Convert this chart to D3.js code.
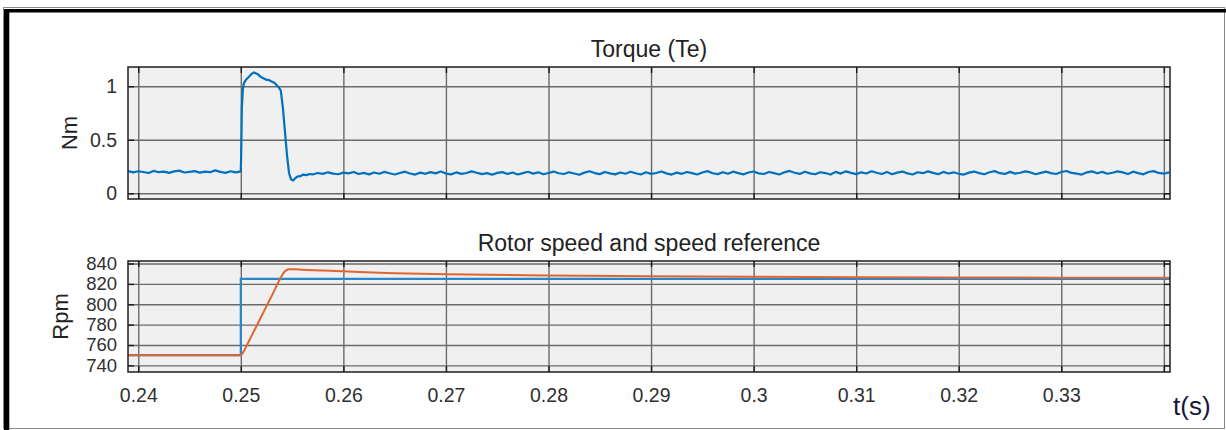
<!DOCTYPE html>
<html>
<head>
<meta charset="utf-8">
<script src="https://cdn.jsdelivr.net/npm/d3@7"></script>
<style>
  body { margin: 0; background: #fff; }
  svg { display: block; }
  text { font-family: "Liberation Sans", Arial, sans-serif; }
</style>
</head>
<body>
<svg id="chart" width="1226" height="430"></svg>
<script>
// time axis
const timeTicks = [0.24, 0.25, 0.26, 0.27, 0.28, 0.29, 0.30, 0.31, 0.32, 0.33, 0.34];
const timeTickLabels = ["0.24", "0.25", "0.26", "0.27", "0.28", "0.29", "0.3", "0.31", "0.32", "0.33", ""];

// torque panel
const torqueTicks = [0, 0.5, 1];
const torqueTickLabels = ["0", "0.5", "1"];
const sampleStep = 0.0005;
const torqueBeforeStart = 0.239;
const torqueBefore = [0.208, 0.195, 0.206, 0.199, 0.190, 0.209, 0.197, 0.203, 0.191, 0.205, 0.212, 0.194,
  0.200, 0.207, 0.193, 0.203, 0.197, 0.214, 0.200, 0.191, 0.206, 0.196, 0.205];
const torqueTransient = [
  [0.25005, 0.45], [0.2501, 0.80], [0.2502, 0.97], [0.2503, 1.03], [0.2505, 1.06], [0.2507, 1.08],
  [0.2509, 1.10], [0.2511, 1.12], [0.2513, 1.13], [0.2515, 1.12], [0.2517, 1.11], [0.2519, 1.09],
  [0.2521, 1.08], [0.2523, 1.07], [0.2525, 1.06], [0.2527, 1.06], [0.2529, 1.05], [0.2531, 1.04],
  [0.2533, 1.03], [0.2535, 1.01], [0.2537, 0.99], [0.2539, 0.96], [0.2541, 0.80], [0.2543, 0.58],
  [0.2545, 0.36], [0.2547, 0.19], [0.2549, 0.13], [0.2551, 0.12], [0.2553, 0.14], [0.2555, 0.155],
  [0.2558, 0.16], [0.2561, 0.175], [0.2564, 0.17], [0.2567, 0.18]
];
const torqueAfterStart = 0.257;
const torqueAfter = [
  0.176, 0.190, 0.181, 0.196, 0.184, 0.178, 0.193, 0.186, 0.199, 0.180, 0.191, 0.177,
  0.194, 0.183, 0.200, 0.187, 0.176, 0.190, 0.202, 0.185, 0.175, 0.193, 0.182, 0.198,
  0.186, 0.203, 0.184, 0.177, 0.195, 0.182, 0.190, 0.205, 0.192, 0.179, 0.188, 0.174,
  0.191, 0.198, 0.181, 0.194, 0.176, 0.188, 0.201, 0.184, 0.196, 0.178, 0.190, 0.203,
  0.187, 0.180, 0.197, 0.185, 0.173, 0.193, 0.206, 0.189, 0.179, 0.199, 0.186, 0.177,
  0.194, 0.183, 0.201, 0.187, 0.176, 0.196, 0.181, 0.190, 0.204, 0.186, 0.175, 0.193,
  0.182, 0.199, 0.188, 0.176, 0.194, 0.207, 0.187, 0.179, 0.197, 0.183, 0.202, 0.189,
  0.177, 0.194, 0.204, 0.186, 0.180, 0.199, 0.189, 0.176, 0.196, 0.209, 0.192, 0.181,
  0.202, 0.186, 0.178, 0.197, 0.189, 0.175, 0.200, 0.184, 0.205, 0.191, 0.179, 0.196,
  0.185, 0.206, 0.192, 0.180, 0.199, 0.178, 0.193, 0.203, 0.186, 0.176, 0.197, 0.188,
  0.205, 0.191, 0.179, 0.200, 0.185, 0.196, 0.182, 0.175, 0.193, 0.203, 0.188, 0.178,
  0.197, 0.207, 0.188, 0.181, 0.200, 0.184, 0.192, 0.205, 0.195, 0.178, 0.191, 0.202,
  0.188, 0.180, 0.199, 0.208, 0.191, 0.184, 0.175, 0.196, 0.205, 0.187, 0.200, 0.183,
  0.192, 0.205, 0.195, 0.180, 0.202, 0.188, 0.177, 0.199, 0.207, 0.190, 0.183, 0.196
];

// speed panel
const speedTicks = [740, 760, 780, 800, 820, 840];
const speedTickLabels = ["740", "760", "780", "800", "820", "840"];
const speedRefTime = [0.239, 0.25, 0.25, 0.3406];
const speedRefRpm = [750, 750, 825, 825];
const rotorTime = [0.239, 0.2500, 0.2503, 0.2506, 0.2510, 0.2520, 0.2530, 0.2540, 0.2543, 0.2547,
  0.2552, 0.2560, 0.2600, 0.2650, 0.2700, 0.2800, 0.2900, 0.3000, 0.3100, 0.3200, 0.3300, 0.3406];
const rotorRpm = [750, 750, 754, 760, 768, 788, 808, 828, 832.5, 834.5,
  834.5, 834, 832.4, 830.5, 829.5, 828.2, 827.5, 827, 826.6, 826.3, 826.1, 826];

const svg = d3.select('#chart');

// outer frame of the figure window
svg.append('rect').attr('x', 3.5).attr('y', 7.5).attr('width', 1221).attr('height', 421)
  .attr('fill', 'none').attr('stroke', '#8a8a8a');
svg.append('rect').attr('x', 4).attr('y', 9).attr('width', 1222).attr('height', 3.5).attr('fill', '#000');
svg.append('rect').attr('x', 4).attr('y', 9).attr('width', 5.3).attr('height', 421).attr('fill', '#000');

const left = 128, right = 1170;
const x = d3.scaleLinear().domain([0.239, 0.3406]).range([left, right]);

function drawAxes(cfg) {
  const { id, top, bottom, y, ticks, labels, tickFont, title, titleY, yTitle, yTitleX, xLabels } = cfg;
  const g = svg.append('g');

  g.append('rect')
    .attr('x', left).attr('y', top)
    .attr('width', right - left).attr('height', bottom - top)
    .attr('fill', '#f0f0f0');

  // grid
  const gridX = g.append('g')
    .attr('transform', `translate(0, ${bottom})`)
    .call(d3.axisBottom(x).tickValues(timeTicks).tickSize(-(bottom - top)).tickFormat(''));
  const gridY = g.append('g')
    .attr('transform', `translate(${left}, 0)`)
    .call(d3.axisLeft(y).tickValues(ticks).tickSize(-(right - left)).tickFormat(''));
  [gridX, gridY].forEach(a => {
    a.select('path.domain').remove();
    a.selectAll('line').attr('stroke', '#6a6a6a').attr('stroke-width', 1.4);
  });

  g.append('clipPath').attr('id', id)
    .append('rect').attr('x', left).attr('y', top)
    .attr('width', right - left).attr('height', bottom - top);

  const plot = g.append('g').attr('clip-path', `url(#${id})`);

  // inward ticks on all four sides
  const xBottom = g.append('g')
    .attr('transform', `translate(0, ${bottom})`)
    .call(d3.axisBottom(x).tickValues(timeTicks).tickSize(-6).tickPadding(16)
      .tickFormat((d, i) => xLabels ? timeTickLabels[i] : ''));
  const xTop = g.append('g')
    .attr('transform', `translate(0, ${top})`)
    .call(d3.axisTop(x).tickValues(timeTicks).tickSize(-6).tickFormat(''));
  const yLeft = g.append('g')
    .attr('transform', `translate(${left}, 0)`)
    .call(d3.axisLeft(y).tickValues(ticks).tickSize(-6).tickPadding(11)
      .tickFormat((d, i) => labels[i]));
  const yRight = g.append('g')
    .attr('transform', `translate(${right}, 0)`)
    .call(d3.axisRight(y).tickValues(ticks).tickSize(-6).tickFormat(''));

  [xBottom, xTop, yLeft, yRight].forEach(a => {
    a.select('path.domain').remove();
    a.selectAll('line').attr('stroke', '#1a1a1a').attr('stroke-width', 1.4);
    a.attr('font-family', null).attr('font-size', null);
    a.selectAll('text').attr('fill', '#303030');
  });
  xBottom.selectAll('text').attr('font-size', 19.5);
  yLeft.selectAll('text').attr('font-size', tickFont);

  g.append('rect')
    .attr('x', left).attr('y', top)
    .attr('width', right - left).attr('height', bottom - top)
    .attr('fill', 'none').attr('stroke', '#1f1f1f').attr('stroke-width', 1.5);

  g.append('text')
    .attr('x', (left + right) / 2).attr('y', titleY)
    .attr('text-anchor', 'middle')
    .attr('font-size', 23).attr('fill', '#222')
    .text(title);

  g.append('text')
    .attr('transform', `translate(${yTitleX}, ${(top + bottom) / 2}) rotate(-90)`)
    .attr('text-anchor', 'middle')
    .attr('font-size', 22).attr('fill', '#222')
    .text(yTitle);

  return plot;
}

// torque
const yTorque = d3.scaleLinear().domain([-0.0533, 1.18]).range([199, 67]);
const torquePlot = drawAxes({
  id: 'clip-torque', top: 67, bottom: 199, y: yTorque,
  ticks: torqueTicks, labels: torqueTickLabels, tickFont: 19.5,
  title: 'Torque (Te)', titleY: 57, yTitle: 'Nm', yTitleX: 77, xLabels: false
});

const torqueSeries = [
  ...torqueBefore.map((v, i) => [torqueBeforeStart + i * sampleStep, v]),
  ...torqueTransient,
  ...torqueAfter.map((v, i) => [torqueAfterStart + i * sampleStep, v])
];

torquePlot.append('path')
  .datum(torqueSeries)
  .attr('fill', 'none')
  .attr('stroke', '#0072BD')
  .attr('stroke-width', 2.2)
  .attr('stroke-linejoin', 'round')
  .attr('d', d3.line().x(d => x(d[0])).y(d => yTorque(d[1])));

// speed
const ySpeed = d3.scaleLinear().domain([733.5, 842.5]).range([372, 261]);
const speedPlot = drawAxes({
  id: 'clip-speed', top: 261, bottom: 372, y: ySpeed,
  ticks: speedTicks, labels: speedTickLabels, tickFont: 18.5,
  title: 'Rotor speed and speed reference', titleY: 251, yTitle: 'Rpm', yTitleX: 68, xLabels: true
});

speedPlot.append('path')
  .datum(speedRefTime.map((t, i) => [t, speedRefRpm[i]]))
  .attr('fill', 'none')
  .attr('stroke', '#2a86cc')
  .attr('stroke-width', 2.2)
  .attr('d', d3.line().x(d => x(d[0])).y(d => ySpeed(d[1])));

speedPlot.append('path')
  .datum(rotorTime.map((t, i) => [t, rotorRpm[i]]))
  .attr('fill', 'none')
  .attr('stroke', '#E0662E')
  .attr('stroke-width', 2)
  .attr('stroke-linejoin', 'round')
  .attr('d', d3.line().curve(d3.curveMonotoneX).x(d => x(d[0])).y(d => ySpeed(d[1])));

svg.append('text')
  .attr('x', 1173).attr('y', 415)
  .attr('font-size', 26).attr('fill', '#15153d')
  .text('t(s)');
</script>
</body>
</html>
